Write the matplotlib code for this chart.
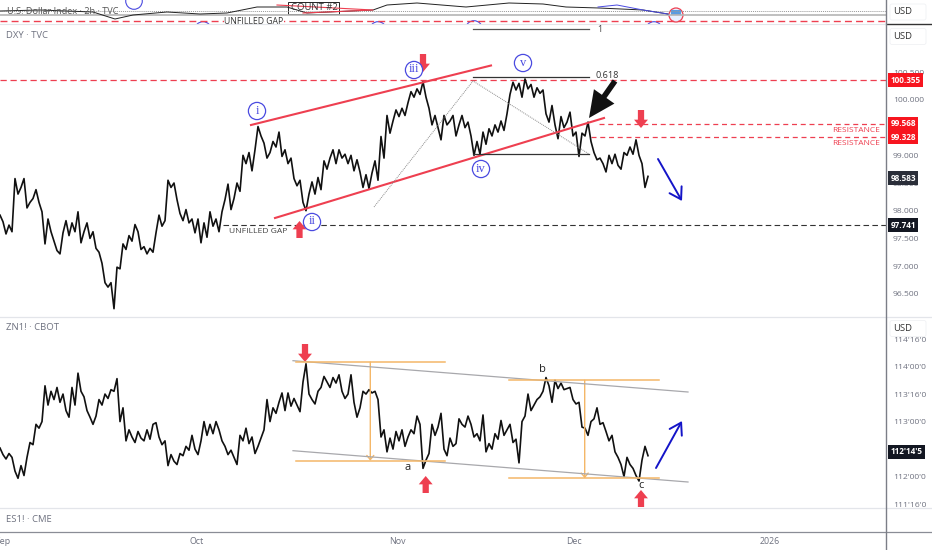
#!/usr/bin/env python3
"""DXY and ZN1! 2h panels with Elliott wave drawings, saved to out.png."""
import matplotlib
matplotlib.use("Agg")
import matplotlib.pyplot as plt
from matplotlib.patches import Circle, FancyArrowPatch, FancyBboxPatch, Rectangle
import numpy as np

W, H = 932, 550
AXIS_X = 886
BAR_PX = 3  # one sampled bar is about 3 px wide

dxy_close = [
    97.92, 97.80, 97.58, 97.74, 97.62, 98.58, 98.30, 98.42, 98.58, 98.05,
    98.15, 98.22, 98.38, 98.15, 97.98, 97.40, 97.85, 97.62, 97.45, 97.28,
    97.22, 97.60, 97.82, 97.55, 97.78, 97.62, 97.98, 97.42, 97.62, 97.78,
    97.50, 97.62, 97.32, 97.25, 97.05, 96.70, 96.62, 96.70, 96.23, 96.98,
    96.95, 97.40, 97.30, 97.55, 97.45, 97.75, 97.62, 97.30, 97.35, 97.22,
    97.32, 97.25, 97.60, 97.92, 97.72, 97.82, 98.55, 98.42, 98.50, 98.20,
    97.95, 97.82, 98.02, 97.78, 97.85, 97.60, 97.85, 97.42, 97.78, 97.52,
    97.98, 97.72, 97.85, 97.62, 97.98, 98.20, 98.48, 98.02, 98.22, 98.50,
    98.35, 99.00, 98.85, 99.05, 98.72, 99.10, 99.52, 99.35, 99.22, 98.95,
    99.05, 99.25, 99.15, 99.42, 98.98, 99.10, 98.85, 98.95, 98.58, 98.45,
    98.55, 98.15, 98.00, 98.30, 98.52, 98.30, 98.60, 98.38, 98.90, 98.75,
    98.95, 99.10, 98.85, 99.10, 98.95, 99.02, 98.85, 99.00, 98.72, 98.92,
    98.70, 98.42, 98.65, 98.40, 98.68, 98.90, 98.55, 99.34, 98.95, 99.72,
    99.40, 99.62, 99.82, 99.70, 99.85, 99.72, 99.95, 100.15, 100.05, 100.20,
    100.10, 100.33, 100.05, 99.85, 99.55, 99.72, 99.50, 99.28, 99.72, 99.55,
    99.62, 99.72, 99.35, 99.55, 99.72, 99.50, 99.60, 99.35, 99.00, 99.25,
    99.02, 99.42, 99.20, 99.48, 99.35, 99.55, 99.42, 99.62, 99.45, 99.75,
    100.10, 100.32, 100.18, 100.30, 100.05, 100.38, 100.20, 100.28, 100.05, 100.22,
    100.12, 100.18, 99.75, 99.60, 99.90, 99.55, 99.30, 99.70, 99.50, 99.60,
    99.78, 99.35, 99.42, 98.98, 99.40, 99.35, 99.60, 99.25, 99.05, 98.92,
    98.95, 98.85, 98.70, 99.00, 98.85, 99.02, 98.82, 98.75, 99.05, 99.00,
    99.15, 99.02, 99.28, 99.00, 98.85, 98.42, 98.62,
]

zn_close = [
    112.52, 112.40, 112.32, 112.42, 112.35, 112.10, 111.97, 112.20, 112.02, 112.35,
    112.62, 112.58, 112.95, 112.88, 113.00, 113.65, 113.30, 113.55, 113.40, 113.62,
    113.35, 113.50, 113.20, 113.08, 113.62, 113.30, 113.88, 113.55, 113.45, 113.20,
    113.08, 112.95, 113.10, 113.40, 113.30, 113.50, 113.42, 113.58, 113.55, 113.78,
    113.00, 113.25, 112.65, 112.85, 112.72, 112.62, 112.82, 112.70, 112.65, 112.85,
    112.68, 112.95, 112.98, 112.72, 112.58, 112.65, 112.20, 112.40, 112.28, 112.22,
    112.42, 112.38, 112.55, 112.48, 112.75, 112.50, 112.40, 112.65, 113.00, 112.75,
    112.95, 112.78, 113.00, 112.85, 112.65, 112.55, 112.40, 112.48, 112.35, 112.22,
    112.75, 112.65, 112.88, 112.60, 112.72, 112.42, 112.55, 112.70, 112.85, 113.40,
    113.00, 113.25, 113.15, 113.35, 113.52, 113.20, 113.52, 113.28, 113.42, 113.30,
    113.18, 113.72, 114.05, 113.50, 113.40, 113.32, 113.55, 113.62, 113.82, 113.72,
    113.62, 113.80, 113.70, 113.85, 113.55, 113.42, 113.50, 113.85, 113.35, 113.08,
    113.25, 113.55, 113.50, 113.58, 113.52, 113.55, 113.40, 112.72, 112.85, 112.45,
    112.70, 112.50, 112.82, 112.65, 112.85, 112.55, 112.72, 112.85, 112.78, 113.10,
    112.95, 112.15, 112.30, 112.42, 112.95, 112.75, 112.90, 113.15, 112.50, 112.38,
    112.70, 112.55, 112.60, 113.05, 112.95, 112.90, 113.10, 112.95, 112.72, 112.78,
    112.65, 113.12, 112.45, 112.60, 112.50, 112.78, 112.68, 113.02, 112.75, 112.85,
    112.95, 112.62, 112.68, 112.25, 113.00, 113.10, 113.50, 113.20, 113.30, 113.40,
    113.45, 113.55, 113.80, 113.65, 113.35, 113.75, 113.60, 113.70, 113.58, 113.60,
    113.62, 113.40, 113.32, 113.35, 112.90, 112.88, 112.75, 113.00, 113.05, 113.25,
    112.95, 112.98, 112.82, 112.65, 112.75, 112.45, 112.35, 112.22, 112.00, 112.35,
    112.22, 112.15, 112.02, 111.92, 112.30, 112.55, 112.38,
]

# small context line in the strip at the very top (pixel-like scale of that strip)
strip_x = [0, 40, 93, 115, 133, 167, 200, 227, 257, 287, 307, 373, 387, 417,
           466, 509, 543, 566, 599, 643, 668]
strip_y = [11, 10, 12, 19, 15, 12, 14, 13, 7, 7, 13, 10, 5, 3, 7, 3, 4, 7, 8, 10, 14]

dxy_ticks = [100.5, 100.0, 99.0, 98.5, 98.0, 97.5, 97.0, 96.5]
dxy_tick_labels = ["100.500", "100.000", "99.000", "98.500", "98.000", "97.500", "97.000", "96.500"]
zn_ticks = [114.5, 114.0, 113.5, 113.0, 112.0, 111.5]
zn_tick_labels = ["114'16'0", "114'00'0", "113'16'0", "113'00'0", "112'00'0", "111'16'0"]
time_ticks_px = [3, 197, 397, 574, 770]
time_labels = ["Sep", "Oct", "Nov", "Dec", "2026"]

RESISTANCE_A, RESISTANCE_B, GAP_LEVEL, FIB_LEVEL = 99.568, 99.328, 97.741, 100.355
DXY_LAST, ZN_LAST = 98.583, 112.453

RED = "#ee3f50"
TAG_RED = "#f7151f"
BLUE = "#4a4ae0"
ARROW_BLUE = "#1414c8"
ORANGE = "#f4b768"
GREY = "#6f7280"
plt.rcParams["font.family"] = ["Open Sans", "DejaVu Sans"]


def panel(fig, top, bottom, right=AXIS_X):
    ax = fig.add_axes([0, 1 - bottom / H, right / W, (bottom - top) / H])
    ax.patch.set_alpha(0)
    for side in ax.spines.values():
        side.set_visible(False)
    ax.set_xticks([])
    ax.set_yticks([])
    return ax


def price_panel(fig, top, bottom, ylim, ticks, labels):
    ax = panel(fig, top, bottom)
    ax.set_xlim(0, AXIS_X / BAR_PX)
    ax.set_ylim(*ylim)
    ax.yaxis.tick_right()
    ax.set_yticks(ticks)
    ax.set_yticklabels(labels, fontsize=6.1, color=GREY)
    ax.tick_params(axis="y", length=0, pad=5)
    return ax


def price_tag(ax, value, text, color):
    ax.text(1 + 4.5 / AXIS_X, value, text, transform=ax.get_yaxis_transform(), ha="left", va="center",
            fontsize=5.9, color="white", fontweight="bold", clip_on=False, zorder=6,
            bbox=dict(boxstyle="square,pad=0.3", fc=color, ec=color, lw=0))


def thick_arrow(ax, x, y_from, y_to):
    ax.add_patch(FancyArrowPatch((x, y_from), (x, y_to), mutation_scale=1, lw=0, color=RED,
                                 arrowstyle="simple,head_width=10,head_length=6,tail_width=4.5",
                                 shrinkA=0, shrinkB=0))


def wave_label(ax, x, y, text):
    ax.add_patch(Circle((x, y), 8.6, fc="white", ec=BLUE, lw=0.9, zorder=4))
    ax.text(x, y - 0.5, text, ha="center", va="center", fontsize=9, color=BLUE,
            family="Liberation Serif", zorder=5)


fig = plt.figure(figsize=(W / 100, H / 100), dpi=100)

# top strip, clipped like the pane above the DXY pane
ax_strip = panel(fig, 0, 24)
ax_strip.set_xlim(0, AXIS_X)
ax_strip.set_ylim(24, 0)
ax_strip.axhline(11, color="#999999", lw=0.7, ls=(0, (1, 1)))
ax_strip.axhline(15, color="#b5b5b5", lw=1.2)
ax_strip.axhline(20.7, color=RED, lw=1.0, ls=(0, (5, 3)))
ax_strip.plot(strip_x, strip_y, color="#222222", lw=0.7)
ax_strip.plot([598, 617, 643, 668], [7, 5, 10, 14], color=BLUE, lw=0.7)
ax_strip.plot([277, 373, 303], [5, 10, 13], color=RED, lw=0.8)
ax_strip.add_patch(Rectangle((288.5, 2), 51, 12, fc="none", ec="#222222", lw=0.7))
ax_strip.text(7, 11, "U.S. Dollar Index · 2h · TVC", fontsize=6.6, color="#555555", va="center")
ax_strip.text(314, 8, "COUNT #2", fontsize=6.8, color="#333333", ha="center", va="center")
ax_strip.text(254, 21, "UNFILLED GAP", fontsize=6.2, color="#333333", ha="center", va="center",
              bbox=dict(fc="white", ec="none", pad=0.5))
for cx, cy in [(134, 1), (378, 30), (474, 29), (654, 30), (203, 30)]:
    ax_strip.add_patch(Circle((cx, cy), 8.3, fc="white", ec=BLUE, lw=0.8))
ax_strip.add_patch(Circle((676, 15), 7, fc="#e8f0ff", ec=RED, lw=0.9))
ax_strip.add_patch(Rectangle((671, 10), 10, 5, fc="#5a9be0", ec="none"))

# DXY pane
ax_dxy = price_panel(fig, 24, 317, (96.08, 101.372), dxy_ticks, dxy_tick_labels)
ax_dxy.hlines(FIB_LEVEL, 0, AXIS_X / BAR_PX, color=RED, lw=0.9, ls=(0, (5, 3)))
ax_dxy.hlines(RESISTANCE_A, 599 / BAR_PX, AXIS_X / BAR_PX, color=RED, lw=0.9, ls=(0, (4, 3)))
ax_dxy.hlines(RESISTANCE_B, 591 / BAR_PX, AXIS_X / BAR_PX, color=RED, lw=0.9, ls=(0, (4, 3)))
ax_dxy.hlines(GAP_LEVEL, 223 / BAR_PX, AXIS_X / BAR_PX, color="#333333", lw=0.8, ls=(0, (5, 3)))
ax_dxy.plot(np.arange(len(dxy_close)), dxy_close, color="#111111", lw=1.2)
price_tag(ax_dxy, FIB_LEVEL, "100.355", TAG_RED)
price_tag(ax_dxy, RESISTANCE_A, "99.568", TAG_RED)
price_tag(ax_dxy, RESISTANCE_B, "99.328", TAG_RED)
price_tag(ax_dxy, DXY_LAST, "98.583", "#2a2e39")
price_tag(ax_dxy, GAP_LEVEL, "97.741", "#131722")

# ZN pane
ax_zn = price_panel(fig, 317, 508, (111.43, 114.90), zn_ticks, zn_tick_labels)
ax_zn.plot(np.arange(len(zn_close)), zn_close, color="#111111", lw=1.2)
price_tag(ax_zn, ZN_LAST, "112'14'5", "#131722")

# time axis
ax_time = panel(fig, 532, 550)
ax_time.set_xlim(0, AXIS_X)
ax_time.set_ylim(0, 1)
ax_time.set_xticks(time_ticks_px)
ax_time.set_xticklabels(time_labels, fontsize=6.4, color=GREY)
ax_time.tick_params(axis="x", length=0, pad=-9.5)

# drawings sit in a full figure layer with pixel coordinates
ov = fig.add_axes([0, 0, 1, 1])
ov.set_xlim(0, W)
ov.set_ylim(H, 0)
ov.axis("off")
ov.patch.set_alpha(0)

# pane frames
for y in (316.5, 508):
    ov.plot([0, W], [y, y], color="#e3e5ea", lw=0.9)
ov.plot([0, W], [532, 532], color="#8a8d96", lw=0.9)
ov.plot([AXIS_X, W], [23.5, 23.5], color="#333333", lw=1.0)
ov.plot([0, AXIS_X], [24, 24], color="#e3e5ea", lw=0.8)
ov.plot([AXIS_X, AXIS_X], [0, H], color="#7b7e87", lw=1.0)

# channels and fib drawing on DXY
ov.plot([251, 491], [125, 65.5], color=RED, lw=1.5)
ov.plot([275, 604], [218, 118], color=RED, lw=1.5)
ov.plot([374, 473, 589], [207, 81, 154], color="#8b8b8b", lw=0.7, ls=(0, (1, 1)))
ov.plot([473, 589], [29, 29], color="#555555", lw=0.9)
ov.plot([473, 589], [76.5, 76.5], color="#333333", lw=0.9)
ov.plot([473, 589], [154, 154], color="#333333", lw=0.9)
ov.text(597, 29, "1", fontsize=6.4, color="#444444", ha="left", va="center")
ov.text(595, 76, "0.618", fontsize=6.6, color="#333333", ha="left", va="center")

wave_label(ov, 257, 111, "i")
wave_label(ov, 312, 222, "ii")
wave_label(ov, 414, 70, "iii")
wave_label(ov, 481, 169, "iv")
wave_label(ov, 523, 63, "v")

thick_arrow(ov, 423, 54, 72)
thick_arrow(ov, 299.5, 238, 221)
thick_arrow(ov, 641, 110, 128)
thick_arrow(ov, 305, 344, 362)
thick_arrow(ov, 425.7, 493, 476)
thick_arrow(ov, 641, 507, 490)

ov.add_patch(FancyArrowPatch((615, 81), (589, 118), mutation_scale=1, lw=0, color="#111111",
                             arrowstyle="simple,head_width=18,head_length=19,tail_width=4",
                             shrinkA=0, shrinkB=0))
for start, end in [((658, 159), (682, 201)), ((656, 468), (682, 421))]:
    ov.add_patch(FancyArrowPatch(start, end, mutation_scale=1, lw=1.4, color=ARROW_BLUE,
                                 arrowstyle="->,head_width=5,head_length=8",
                                 shrinkA=0, shrinkB=0))

ov.text(856, 130, "RESISTANCE", fontsize=6.0, color=RED, ha="center", va="center")
ov.text(856, 143.5, "RESISTANCE", fontsize=6.0, color=RED, ha="center", va="center")
ov.text(258.5, 231.5, "UNFILLED GAP", fontsize=6.1, color="#444444", ha="center", va="center")

# channel and measured moves on ZN
ov.plot([293, 688], [360.7, 392], color="#a8a8ac", lw=0.9)
ov.plot([293, 688], [450.7, 482], color="#a8a8ac", lw=0.9)
for x0, x1, xm, y0, y1 in [(296, 445, 370.3, 362, 460.7), (509, 659, 584.7, 380.3, 478.3)]:
    ov.plot([x0, x1], [y0, y0], color=ORANGE, lw=1.1)
    ov.plot([x0, x1], [y1, y1], color=ORANGE, lw=1.1)
    ov.add_patch(FancyArrowPatch((xm, y0), (xm, y1), mutation_scale=1, lw=1.0, color=ORANGE,
                                 arrowstyle="->,head_width=2.5,head_length=3",
                                 shrinkA=0, shrinkB=0))
ov.text(408, 467.5, "a", fontsize=8, color="#222222", ha="center", va="center")
ov.text(542, 369, "b", fontsize=8, color="#222222", ha="center", va="center")
ov.text(641, 486, "c", fontsize=8, color="#222222", ha="center", va="center")

# pane titles and currency buttons
ov.text(6, 36, "DXY · TVC", fontsize=6.8, color=GREY, va="center")
ov.text(6, 328, "ZN1! · CBOT", fontsize=6.8, color=GREY, va="center")
ov.text(6, 520, "ES1! · CME", fontsize=6.8, color=GREY, va="center")
for y in (12, 36.5, 328.5):
    ov.add_patch(FancyBboxPatch((891, y - 7), 34, 14, boxstyle="round,pad=1,rounding_size=2",
                                fc="white", ec="#f0f1f4", lw=0.6, zorder=7))
    ov.text(903, y, "USD", fontsize=6.8, color="#333333", ha="center", va="center", zorder=8)

fig.savefig("out.png", dpi=100)
plt.close(fig)
print(len(dxy_close), len(zn_close))
